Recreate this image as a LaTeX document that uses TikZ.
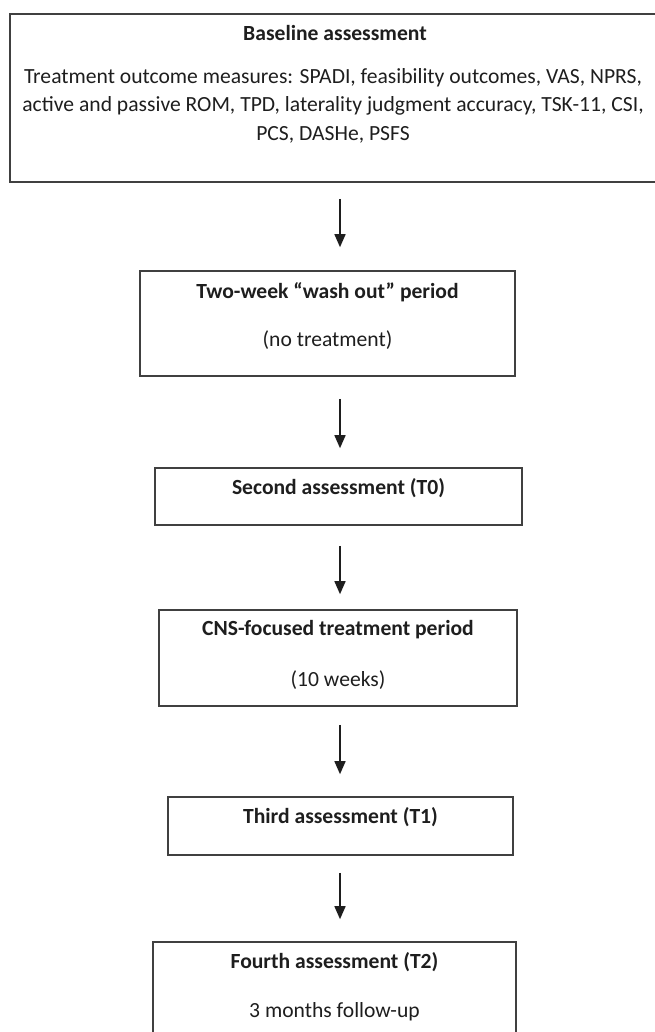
\documentclass[tikz,border=0pt]{standalone}
\usepackage{fontspec}
\setmainfont{Carlito}
\usepackage{tikz}
\usetikzlibrary{arrows.meta}

\definecolor{boxline}{HTML}{404040}
\definecolor{ink}{HTML}{1E1E1E}

\tikzset{
  stagebox/.style={draw=boxline, line width=1.6pt, rectangle, inner sep=0pt},
  headtext/.style={font=\fontsize{21.6}{28.5}\selectfont\bfseries, text=ink, inner sep=0pt},
  bodytext/.style={font=\fontsize{21.6}{28.5}\selectfont, text=ink, inner sep=0pt, align=center},
  flow/.style={draw=ink, line width=1.5pt, -{Triangle[width=11pt,length=13pt]}}
}

\begin{document}
\begin{tikzpicture}[x=1pt,y=-1pt]
  \useasboundingbox (0,0) rectangle (654,1032);

  \node[stagebox, minimum width=656pt, minimum height=168pt] (base) at (338,98) {};
  \node[headtext] (baseT) at (335,33) {Baseline assessment};
  \node[bodytext] (baseB) at (333,105.5) {Treatment outcome measures: SPADI, feasibility outcomes, VAS, NPRS,\\
    active and passive ROM, TPD, laterality judgment accuracy, TSK-11, CSI,\\
    PCS, DASHe, PSFS};

  \node[stagebox, minimum width=375pt, minimum height=105pt] (wash) at (327.5,323.5) {};
  \node[headtext] (washT) at (327.5,292) {Two-week “wash out” period};
  \node[bodytext] (washB) at (327.5,340) {(no treatment)};

  \node[stagebox, minimum width=367pt, minimum height=57pt] (tzero) at (338.5,496.5) {};
  \node[headtext] (tzeroT) at (338.5,488) {Second assessment (T0)};

  \node[stagebox, minimum width=358pt, minimum height=96pt] (cns) at (338,658) {};
  \node[headtext] (cnsT) at (338,630) {CNS-focused treatment period};
  \node[bodytext] (cnsB) at (338,680) {(10 weeks)};

  \node[stagebox, minimum width=345pt, minimum height=58pt] (tone) at (340.5,826) {};
  \node[headtext] (toneT) at (340.5,817) {Third assessment (T1)};

  \node[stagebox, minimum width=363pt, minimum height=103pt] (ttwo) at (334.5,993.5) {};
  \node[headtext] (ttwoT) at (334.5,962) {Fourth assessment (T2)};
  \node[bodytext] (ttwoB) at (334.5,1012) {3 months follow-up};

  \coordinate (spine) at (340,0);
  \draw[flow, shorten <=16pt, shorten >=23pt] (base.south -| spine) -- (wash.north -| spine);
  \draw[flow, shorten <=22pt, shorten >=19pt] (wash.south -| spine) -- (tzero.north -| spine);
  \draw[flow, shorten <=20pt, shorten >=15pt] (tzero.south -| spine) -- (cns.north -| spine);
  \draw[flow, shorten <=18pt, shorten >=22pt] (cns.south -| spine) -- (tone.north -| spine);
  \draw[flow, shorten <=17pt, shorten >=22pt] (tone.south -| spine) -- (ttwo.north -| spine);
\end{tikzpicture}
\end{document}
